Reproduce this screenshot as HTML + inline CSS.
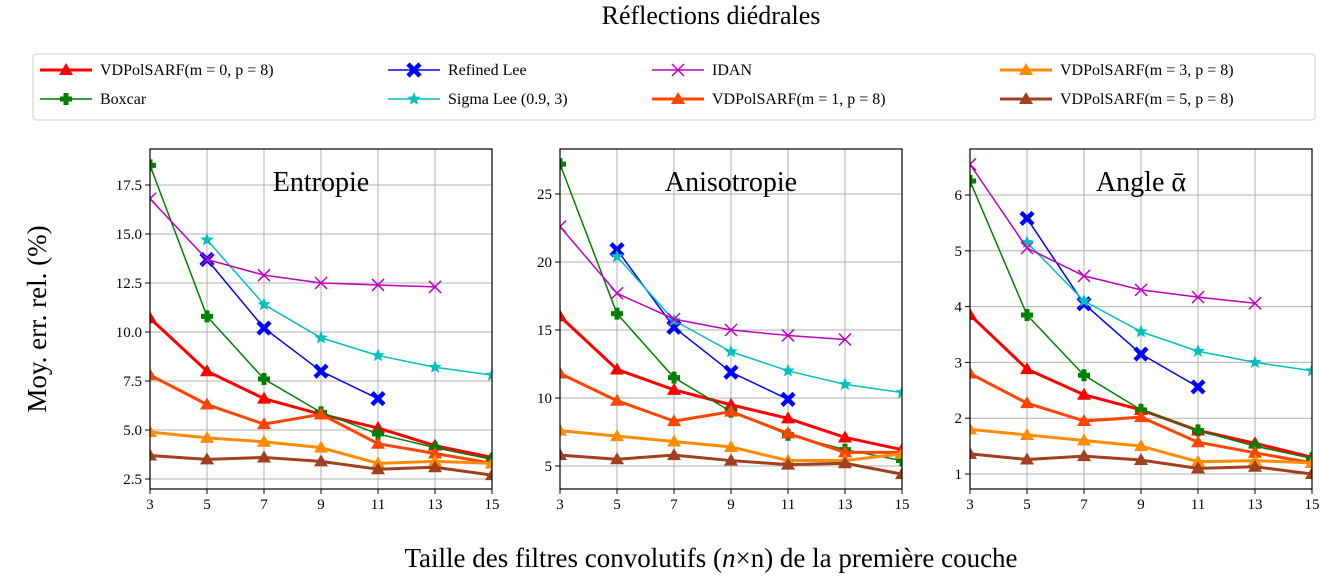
<!DOCTYPE html>
<html><head><meta charset="utf-8"><style>
body{margin:0;background:#fff}
svg{font-family:"Liberation Serif",serif}
</style></head><body>
<svg id="c" width="1322" height="578" xmlns="http://www.w3.org/2000/svg">
<text x="711" y="24" font-size="26" text-anchor="middle">Réflections diédrales</text>
<text x="711" y="567" font-size="27" text-anchor="middle">Taille des filtres convolutifs (<tspan font-style="italic">n</tspan>×n) de la première couche</text>
<text transform="translate(46,319) rotate(-90)" font-size="27" text-anchor="middle">Moy. err. rel. (%)</text>
<rect x="33" y="54" width="1282" height="66" rx="3" fill="#fff" stroke="#ccc"/>
<g id="legend"></g>
<g id="plots"></g>
</svg>
<script>
const xValues=[3,5,7,9,11,13,15];
const seriesNames=["VDPolSARF(m = 0, p = 8)","Boxcar","Refined Lee","Sigma Lee (0.9, 3)","IDAN","VDPolSARF(m = 1, p = 8)","VDPolSARF(m = 3, p = 8)","VDPolSARF(m = 5, p = 8)"];
// Entropie
const entM0=[10.7,8.0,6.6,5.8,5.1,4.2,3.6];
const entBox=[18.5,10.8,7.6,5.9,4.8,4.1,3.5];
const entLee=[null,13.7,10.2,8.0,6.6,null,null];
const entSigma=[null,14.7,11.4,9.7,8.8,8.2,7.8];
const entIdan=[16.8,13.7,12.9,12.5,12.4,12.3,null];
const entM1=[7.8,6.3,5.3,5.8,4.3,3.8,3.3];
const entM3=[4.9,4.6,4.4,4.1,3.3,3.4,3.3];
const entM5=[3.7,3.5,3.6,3.4,3.0,3.1,2.7];
// Anisotropie
const aniM0=[16.0,12.1,10.6,9.5,8.5,7.1,6.2];
const aniBox=[27.2,16.2,11.5,9.0,7.3,6.2,5.4];
const aniLee=[null,20.9,15.2,11.9,9.9,null,null];
const aniSigma=[null,20.4,15.7,13.4,12.0,11.0,10.4];
const aniIdan=[22.6,17.7,15.8,15.0,14.6,14.3,null];
const aniM1=[11.8,9.8,8.3,9.0,7.4,6.0,6.0];
const aniM3=[7.6,7.2,6.8,6.4,5.4,5.4,5.9];
const aniM5=[5.8,5.5,5.8,5.4,5.1,5.2,4.4];
// Angle
const angM0=[3.85,2.88,2.42,2.15,1.78,1.55,1.3];
const angBox=[6.25,3.85,2.77,2.15,1.78,1.5,1.28];
const angLee=[null,5.58,4.05,3.15,2.56,null,null];
const angSigma=[null,5.15,4.1,3.55,3.2,3.0,2.85];
const angIdan=[6.55,5.05,4.55,4.3,4.17,4.06,null];
const angM1=[2.8,2.27,1.95,2.02,1.57,1.38,1.2];
const angM3=[1.8,1.7,1.6,1.5,1.22,1.24,1.2];
const angM5=[1.36,1.26,1.32,1.25,1.1,1.13,1.0];
const entTicks=[2.5,5.0,7.5,10.0,12.5,15.0,17.5];
const aniTicks=[5,10,15,20,25];
const angTicks=[1,2,3,4,5,6];

const NS="http://www.w3.org/2000/svg";
function mk(tag,attrs,parent){const e=document.createElementNS(NS,tag);for(const k in attrs)e.setAttribute(k,attrs[k]);parent.appendChild(e);return e;}
const styles=[
 {c:"#ff0000",w:3,m:"tri"},{c:"#008000",w:1.5,m:"plus"},{c:"#0000ff",w:1.5,m:"X"},{c:"#00bfbf",w:1.5,m:"star"},
 {c:"#bf00bf",w:1.5,m:"x"},{c:"#ff4500",w:3,m:"tri"},{c:"#ff8c00",w:3,m:"tri"},{c:"#a0401e",w:3,m:"tri"}];
function marker(g,type,x,y,c){
 let e;
 if(type==="tri"){e=mk("polygon",{points:`${x},${y-7} ${x-7},${y+5} ${x+7},${y+5}`,fill:c},g);}
 else if(type==="plus"){e=mk("path",{d:`M${x-2.5} ${y-6}h5v3.5h3.5v5h-3.5v3.5h-5v-3.5h-3.5v-5h3.5z`,fill:c},g);}
 else if(type==="X"){e=mk("path",{d:`M${x-6} ${y-6}L${x+6} ${y+6}M${x+6} ${y-6}L${x-6} ${y+6}`,stroke:c,"stroke-width":4.5},g);}
 else if(type==="star"){let p=[];for(let i=0;i<10;i++){const r=i%2?3:7,a=-Math.PI/2+i*Math.PI/5;p.push((x+r*Math.cos(a)).toFixed(1)+","+(y+r*Math.sin(a)).toFixed(1));}e=mk("polygon",{points:p.join(" "),fill:c},g);}
 else {e=mk("path",{d:`M${x-6} ${y-6}L${x+6} ${y+6}M${x+6} ${y-6}L${x-6} ${y+6}`,stroke:c,"stroke-width":1.5},g);}
 return e;
}
// legend
const lg=document.getElementById("legend");
const legPos=[[40,70],[40,99],[388,70],[388,99],[652,70],[652,99],[1000,70],[1000,99]];
seriesNames.forEach((n,i)=>{
 const [lx,ly]=legPos[i],s=styles[i];
 const g=mk("g",{},lg);
 
 
 mk("line",{x1:lx,y1:ly,x2:lx+52,y2:ly,stroke:s.c,"stroke-width":s.w},g);
 marker(g,s.m,lx+26,ly,s.c);
 const t=mk("text",{x:lx+60,y:ly+5,"font-size":16},g);
 t.textContent=n;
});
const panels=[
 {title:"Entropie",x0:150,x1:492,ymin:2.5,ymax:17.5,py0:479,py1:185,ticks:entTicks,fmt:v=>v.toFixed(1),data:[entM0,entBox,entLee,entSigma,entIdan,entM1,entM3,entM5],name:"entropie"},
 {title:"Anisotropie",x0:560,x1:902,ymin:5,ymax:25,py0:466,py1:194,ticks:aniTicks,fmt:v=>String(v),data:[aniM0,aniBox,aniLee,aniSigma,aniIdan,aniM1,aniM3,aniM5],name:"anisotropie"},
 {title:"Angle ᾱ",x0:970,x1:1312,ymin:1,ymax:6,py0:474,py1:195,ticks:angTicks,fmt:v=>String(v),data:[angM0,angBox,angLee,angSigma,angIdan,angM1,angM3,angM5],name:"angle"}];
const pg=document.getElementById("plots");
const TOP=149,BOT=489;
panels.forEach(p=>{
 const g=mk("g",{},pg);
 
 
 const sx=v=>p.x0+(v-3)/12*(p.x1-p.x0);
 const sy=v=>p.py0+(v-p.ymin)/(p.ymax-p.ymin)*(p.py1-p.py0);
 xValues.forEach(v=>{
  mk("line",{x1:sx(v),x2:sx(v),y1:TOP,y2:BOT,stroke:"#b0b0b0","stroke-width":1},g);
  mk("line",{x1:sx(v),x2:sx(v),y1:BOT,y2:BOT+5,stroke:"#000"},g);
  const t=mk("text",{x:sx(v),y:BOT+20,"font-size":15,"text-anchor":"middle"},g);
  
  
  t.textContent=v;
 });
 p.ticks.forEach(v=>{
  mk("line",{x1:p.x0,x2:p.x1,y1:sy(v),y2:sy(v),stroke:"#b0b0b0","stroke-width":1},g);
  mk("line",{x1:p.x0-5,x2:p.x0,y1:sy(v),y2:sy(v),stroke:"#000"},g);
  const t=mk("text",{x:p.x0-8,y:sy(v)+5,"font-size":15,"text-anchor":"end"},g);
  
  
  t.textContent=p.fmt(v);
 });
 const cp=mk("clipPath",{id:"cp"+p.name},g);
 mk("rect",{x:p.x0,y:TOP,width:p.x1-p.x0,height:BOT-TOP},cp);
 const dg=mk("g",{"clip-path":`url(#cp${p.name})`},g);
 p.data.forEach((arr,i)=>{
  const s=styles[i];
  const sg=mk("g",{},dg);
  
  
  let pts=[];
  arr.forEach((v,j)=>{if(v!==null)pts.push([sx(xValues[j]),sy(v)]);});
  mk("polyline",{points:pts.map(q=>q.join(",")).join(" "),fill:"none",stroke:s.c,"stroke-width":s.w,"stroke-linejoin":"round"},sg);
  pts.forEach(q=>{
   const m=marker(sg,s.m,q[0],q[1],s.c);
   
   
  });
 });
 mk("rect",{x:p.x0,y:TOP,width:p.x1-p.x0,height:BOT-TOP,fill:"none",stroke:"#000","stroke-width":1.2},g);
 const t=mk("text",{x:(p.x0+p.x1)/2,y:191,"font-size":28,"text-anchor":"middle"},g);
 
 
 t.textContent=p.title;
});
</script>
</body></html>
